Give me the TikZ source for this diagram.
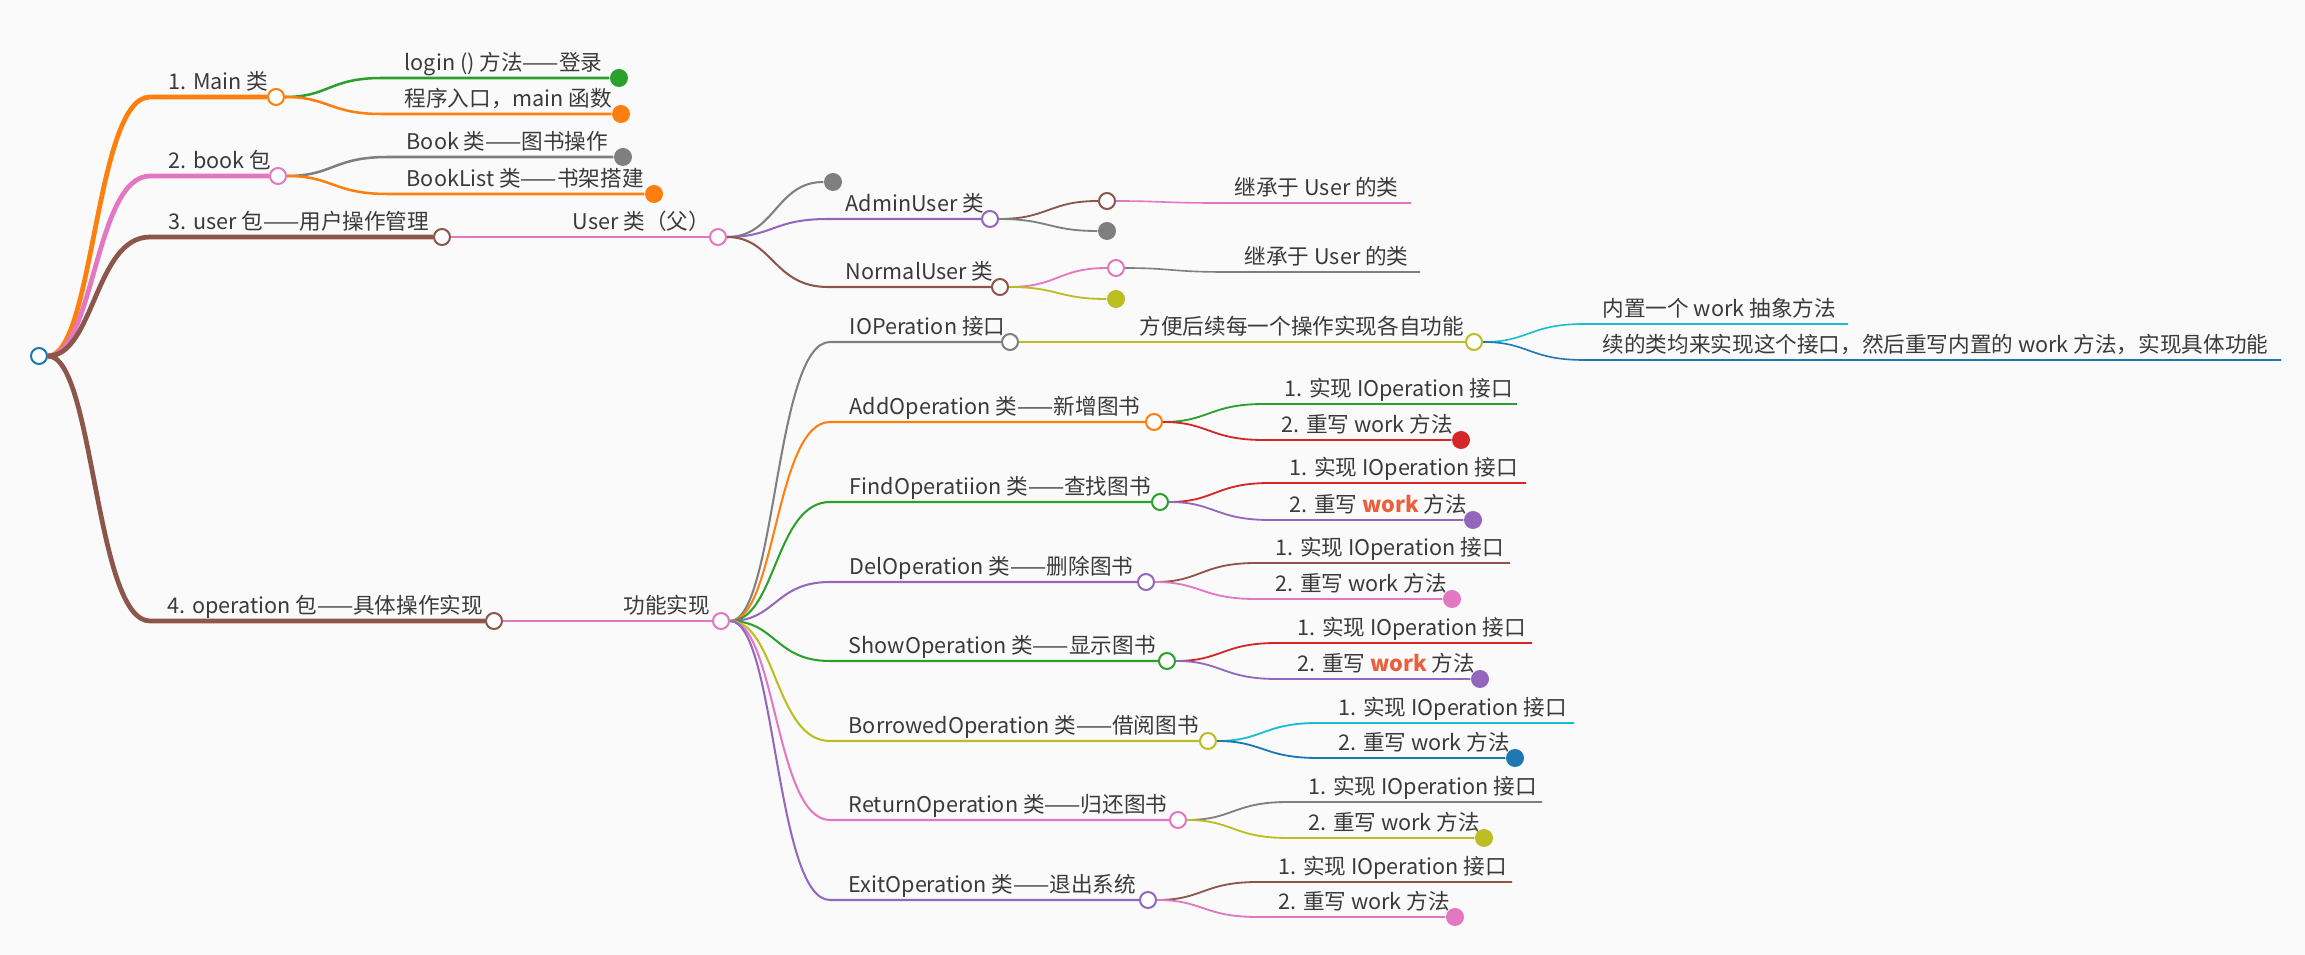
\documentclass[tikz,border=0pt]{standalone}
\usepackage{fontspec}
\setmainfont{Noto Sans CJK SC}
\usetikzlibrary{backgrounds,calc}
\definecolor{bg}{HTML}{FAFAFA}
\definecolor{txt}{HTML}{3A3A3A}
\definecolor{workc}{HTML}{E8603C}
\definecolor{cblue}{HTML}{1F77B4}
\definecolor{corange}{HTML}{FF7F0E}
\definecolor{cgreen}{HTML}{2CA02C}
\definecolor{cred}{HTML}{D62728}
\definecolor{cpurple}{HTML}{9467BD}
\definecolor{cbrown}{HTML}{8C564B}
\definecolor{cpink}{HTML}{E377C2}
\definecolor{cgray}{HTML}{7F7F7F}
\definecolor{colive}{HTML}{BCBD22}
\definecolor{ccyan}{HTML}{17BECF}
\newcommand{\wk}{{\bfseries\color{workc}work}}

\begin{document}
\begin{tikzpicture}[
    hub/.style={circle,draw,fill=white,line width=0.57pt,minimum size=0.16cm,inner sep=0pt},
    leaf/.style={circle,fill,minimum size=0.18cm,inner sep=0pt},
    lbl/.style={anchor=base west,inner sep=0pt,text=txt,font=\fontsize{6.15}{7}\selectfont},
    w1/.style={line width=1.35pt},
    w2/.style={line width=0.72pt},
    w3/.style={line width=0.58pt},
    w4/.style={line width=0.52pt},
    w5/.style={line width=0.46pt}
  ]
  \useasboundingbox (0,0) rectangle (23.05,9.55);

  % root and the four packages
  \node[hub,draw=cblue] (root) at (0.39,5.99) {};
  \node[hub,draw=corange] (main) at (2.76,8.58) {};
  \node[lbl] (main-t) at (1.68,8.65) {1. Main 类};
  \node[hub,draw=cpink] (book) at (2.78,7.79) {};
  \node[lbl] (book-t) at (1.68,7.86) {2. book 包};
  \node[hub,draw=cbrown] (user) at (4.42,7.18) {};
  \node[lbl] (user-t) at (1.68,7.25) {3. user 包——用户操作管理};
  \node[hub,draw=cbrown] (oper) at (4.94,3.34) {};
  \node[lbl] (oper-t) at (1.67,3.41) {4. operation 包——具体操作实现};

  % main, book, user
  \node[leaf,cgreen] (login) at (6.19,8.77) {};
  \node[lbl] (login-t) at (4.04,8.84) {login () 方法——登录};
  \node[leaf,corange] (entry) at (6.21,8.41) {};
  \node[lbl] (entry-t) at (4.04,8.48) {程序入口，main 函数};
  \node[leaf,cgray] (bookop) at (6.23,7.98) {};
  \node[lbl] (bookop-t) at (4.06,8.05) {Book 类——图书操作};
  \node[leaf,corange] (blist) at (6.54,7.61) {};
  \node[lbl] (blist-t) at (4.06,7.68) {BookList 类——书架搭建};
  \node[hub,draw=cpink] (userc) at (7.18,7.18) {};
  \node[lbl] (userc-t) at (5.72,7.25) {User 类（父）};
  \node[hub,draw=cpink] (func) at (7.21,3.34) {};
  \node[lbl] (func-t) at (6.23,3.41) {功能实现};

  \node[leaf,cgray] (ublank) at (8.33,7.73) {};
  \node[hub,draw=cpurple] (admin) at (9.90,7.36) {};
  \node[lbl] (admin-t) at (8.45,7.43) {AdminUser 类};
  \node[hub,draw=cbrown] (normal) at (10.00,6.68) {};
  \node[lbl] (normal-t) at (8.45,6.75) {NormalUser 类};
  \node[hub,draw=cbrown] (adm1) at (11.07,7.54) {};
  \node[leaf,cgray] (adm2) at (11.07,7.24) {};
  \coordinate (adm1-e) at (14.11,7.52);
  \node[lbl] (adm1-t) at (12.34,7.59) {继承于 User 的类};
  \node[hub,draw=cpink] (nor1) at (11.16,6.87) {};
  \node[leaf,colive] (nor2) at (11.16,6.56) {};
  \coordinate (nor1-e) at (14.20,6.83);
  \node[lbl] (nor1-t) at (12.44,6.90) {继承于 User 的类};

  % operations
  \node[hub,draw=cgray] (ioper) at (10.10,6.13) {};
  \node[lbl] (ioper-t) at (8.49,6.20) {IOPeration 接口};
  \node[hub,draw=colive] (fang) at (14.74,6.13) {};
  \node[lbl] (fang-t) at (11.39,6.20) {方便后续每一个操作实现各自功能};
  \coordinate (fang1-e) at (18.48,6.31);
  \node[lbl] (fang1-t) at (16.02,6.38) {内置一个 work 抽象方法};
  \coordinate (fang2-e) at (22.81,5.95);
  \node[lbl] (fang2-t) at (16.02,6.02) {续的类均来实现这个接口，然后重写内置的 work 方法，实现具体功能};

  \node[hub,draw=corange] (add) at (11.54,5.33) {};
  \node[lbl] (add-t) at (8.49,5.40) {AddOperation 类——新增图书};
  \coordinate (add1-e) at (15.17,5.51);
  \node[lbl] (add1-t) at (12.84,5.58) {1. 实现 IOperation 接口};
  \node[leaf,cred] (add2) at (14.61,5.15) {};
  \node[lbl] (add2-t) at (12.81,5.22) {2. 重写 work 方法};

  \node[hub,draw=cgreen] (find) at (11.60,4.53) {};
  \node[lbl] (find-t) at (8.49,4.60) {FindOperatiion 类——查找图书};
  \coordinate (find1-e) at (15.26,4.72);
  \node[lbl] (find1-t) at (12.89,4.79) {1. 实现 IOperation 接口};
  \node[leaf,cpurple] (find2) at (14.73,4.35) {};
  \node[lbl] (find2-t) at (12.89,4.42) {2. 重写 \wk{} 方法};

  \node[hub,draw=cpurple] (del) at (11.46,3.73) {};
  \node[lbl] (del-t) at (8.49,3.80) {DelOperation 类——删除图书};
  \coordinate (del1-e) at (15.10,3.92);
  \node[lbl] (del1-t) at (12.75,3.99) {1. 实现 IOperation 接口};
  \node[leaf,cpink] (del2) at (14.52,3.56) {};
  \node[lbl] (del2-t) at (12.75,3.63) {2. 重写 work 方法};

  \node[hub,draw=cgreen] (show) at (11.67,2.94) {};
  \node[lbl] (show-t) at (8.48,3.01) {ShowOperation 类——显示图书};
  \coordinate (show1-e) at (15.32,3.12);
  \node[lbl] (show1-t) at (12.97,3.19) {1. 实现 IOperation 接口};
  \node[leaf,cpurple] (show2) at (14.80,2.76) {};
  \node[lbl] (show2-t) at (12.97,2.83) {2. 重写 \wk{} 方法};

  \node[hub,draw=colive] (borrow) at (12.08,2.14) {};
  \node[lbl] (borrow-t) at (8.48,2.21) {BorrowedOperation 类——借阅图书};
  \coordinate (bor1-e) at (15.74,2.32);
  \node[lbl] (bor1-t) at (13.38,2.39) {1. 实现 IOperation 接口};
  \node[leaf,cblue] (bor2) at (15.15,1.97) {};
  \node[lbl] (bor2-t) at (13.38,2.04) {2. 重写 work 方法};

  \node[hub,draw=cpink] (ret) at (11.78,1.35) {};
  \node[lbl] (ret-t) at (8.48,1.42) {ReturnOperation 类——归还图书};
  \coordinate (ret1-e) at (15.42,1.53);
  \node[lbl] (ret1-t) at (13.08,1.60) {1. 实现 IOperation 接口};
  \node[leaf,colive] (ret2) at (14.84,1.17) {};
  \node[lbl] (ret2-t) at (13.08,1.24) {2. 重写 work 方法};

  \node[hub,draw=cpurple] (exit) at (11.48,0.55) {};
  \node[lbl] (exit-t) at (8.48,0.62) {ExitOperation 类——退出系统};
  \coordinate (exit1-e) at (15.12,0.73);
  \node[lbl] (exit1-t) at (12.78,0.80) {1. 实现 IOperation 接口};
  \node[leaf,cpink] (exit2) at (14.55,0.38) {};
  \node[lbl] (exit2-t) at (12.78,0.45) {2. 重写 work 方法};

  \begin{scope}[on background layer]
    \fill[bg] (0,0) rectangle (23.05,9.55);
    % root
    \draw[w1,corange] (root) .. controls +(0.55,0) and +(-0.55,0) .. ($(root |- main)+(1.11,0)$) -- (main);
    \draw[w1,cpink] (root) .. controls +(0.55,0) and +(-0.55,0) .. ($(root |- book)+(1.11,0)$) -- (book);
    \draw[w1,cbrown] (root) .. controls +(0.55,0) and +(-0.55,0) .. ($(root |- user)+(1.11,0)$) -- (user);
    \draw[w1,cbrown] (root) .. controls +(0.55,0) and +(-0.55,0) .. ($(root |- oper)+(1.11,0)$) -- (oper);
    % packages
    \draw[w2,cgreen] (main) .. controls +(0.53,0) and +(-0.53,0) .. ($(main |- login)+(1.06,0)$) -- (login);
    \draw[w2,corange] (main) .. controls +(0.53,0) and +(-0.53,0) .. ($(main |- entry)+(1.06,0)$) -- (entry);
    \draw[w2,cgray] (book) .. controls +(0.55,0) and +(-0.55,0) .. ($(book |- bookop)+(1.1,0)$) -- (bookop);
    \draw[w2,corange] (book) .. controls +(0.55,0) and +(-0.55,0) .. ($(book |- blist)+(1.1,0)$) -- (blist);
    \draw[w2,cpink] (user) -- (userc);
    \draw[w2,cpink] (oper) -- (func);
    % users
    \draw[w3,cgray] (userc) .. controls +(0.57,0) and +(-0.57,0) .. (ublank);
    \draw[w3,cpurple] (userc) .. controls +(0.55,0) and +(-0.55,0) .. ($(userc |- admin)+(1.1,0)$) -- (admin);
    \draw[w3,cbrown] (userc) .. controls +(0.55,0) and +(-0.55,0) .. ($(userc |- normal)+(1.1,0)$) -- (normal);
    \draw[w4,cbrown] (admin) .. controls +(0.58,0) and +(-0.58,0) .. (adm1);
    \draw[w4,cgray] (admin) .. controls +(0.58,0) and +(-0.58,0) .. (adm2);
    \draw[w5,cpink] (adm1) .. controls +(0.55,0) and +(-0.55,0) .. ($(adm1 |- adm1-e)+(1.1,0)$) -- (adm1-e);
    \draw[w4,cpink] (normal) .. controls +(0.58,0) and +(-0.58,0) .. (nor1);
    \draw[w4,colive] (normal) .. controls +(0.58,0) and +(-0.58,0) .. (nor2);
    \draw[w5,cgray] (nor1) .. controls +(0.55,0) and +(-0.55,0) .. ($(nor1 |- nor1-e)+(1.1,0)$) -- (nor1-e);
    % operations
    \draw[w3,cgray] (func) .. controls +(0.55,0) and +(-0.55,0) .. ($(func |- ioper)+(1.09,0)$) -- (ioper);
    \draw[w3,corange] (func) .. controls +(0.55,0) and +(-0.55,0) .. ($(func |- add)+(1.09,0)$) -- (add);
    \draw[w3,cgreen] (func) .. controls +(0.55,0) and +(-0.55,0) .. ($(func |- find)+(1.09,0)$) -- (find);
    \draw[w3,cpurple] (func) .. controls +(0.55,0) and +(-0.55,0) .. ($(func |- del)+(1.09,0)$) -- (del);
    \draw[w3,cgreen] (func) .. controls +(0.55,0) and +(-0.55,0) .. ($(func |- show)+(1.09,0)$) -- (show);
    \draw[w3,colive] (func) .. controls +(0.55,0) and +(-0.55,0) .. ($(func |- borrow)+(1.09,0)$) -- (borrow);
    \draw[w3,cpink] (func) .. controls +(0.55,0) and +(-0.55,0) .. ($(func |- ret)+(1.09,0)$) -- (ret);
    \draw[w3,cpurple] (func) .. controls +(0.55,0) and +(-0.55,0) .. ($(func |- exit)+(1.09,0)$) -- (exit);
    \draw[w4,colive] (ioper) -- (fang);
    \draw[w5,ccyan] (fang) .. controls +(0.55,0) and +(-0.55,0) .. ($(fang |- fang1-e)+(1.1,0)$) -- (fang1-e);
    \draw[w5,cblue] (fang) .. controls +(0.55,0) and +(-0.55,0) .. ($(fang |- fang2-e)+(1.1,0)$) -- (fang2-e);
    \draw[w4,cgreen] (add) .. controls +(0.55,0) and +(-0.55,0) .. ($(add |- add1-e)+(1.1,0)$) -- (add1-e);
    \draw[w4,cred] (add) .. controls +(0.55,0) and +(-0.55,0) .. ($(add |- add2)+(1.1,0)$) -- (add2);
    \draw[w4,cred] (find) .. controls +(0.55,0) and +(-0.55,0) .. ($(find |- find1-e)+(1.1,0)$) -- (find1-e);
    \draw[w4,cpurple] (find) .. controls +(0.55,0) and +(-0.55,0) .. ($(find |- find2)+(1.1,0)$) -- (find2);
    \draw[w4,cbrown] (del) .. controls +(0.55,0) and +(-0.55,0) .. ($(del |- del1-e)+(1.1,0)$) -- (del1-e);
    \draw[w4,cpink] (del) .. controls +(0.55,0) and +(-0.55,0) .. ($(del |- del2)+(1.1,0)$) -- (del2);
    \draw[w4,cred] (show) .. controls +(0.55,0) and +(-0.55,0) .. ($(show |- show1-e)+(1.1,0)$) -- (show1-e);
    \draw[w4,cpurple] (show) .. controls +(0.55,0) and +(-0.55,0) .. ($(show |- show2)+(1.1,0)$) -- (show2);
    \draw[w4,ccyan] (borrow) .. controls +(0.55,0) and +(-0.55,0) .. ($(borrow |- bor1-e)+(1.1,0)$) -- (bor1-e);
    \draw[w4,cblue] (borrow) .. controls +(0.55,0) and +(-0.55,0) .. ($(borrow |- bor2)+(1.1,0)$) -- (bor2);
    \draw[w4,cgray] (ret) .. controls +(0.55,0) and +(-0.55,0) .. ($(ret |- ret1-e)+(1.1,0)$) -- (ret1-e);
    \draw[w4,colive] (ret) .. controls +(0.55,0) and +(-0.55,0) .. ($(ret |- ret2)+(1.1,0)$) -- (ret2);
    \draw[w4,cbrown] (exit) .. controls +(0.55,0) and +(-0.55,0) .. ($(exit |- exit1-e)+(1.1,0)$) -- (exit1-e);
    \draw[w4,cpink] (exit) .. controls +(0.55,0) and +(-0.55,0) .. ($(exit |- exit2)+(1.1,0)$) -- (exit2);
  \end{scope}
\end{tikzpicture}
\end{document}
